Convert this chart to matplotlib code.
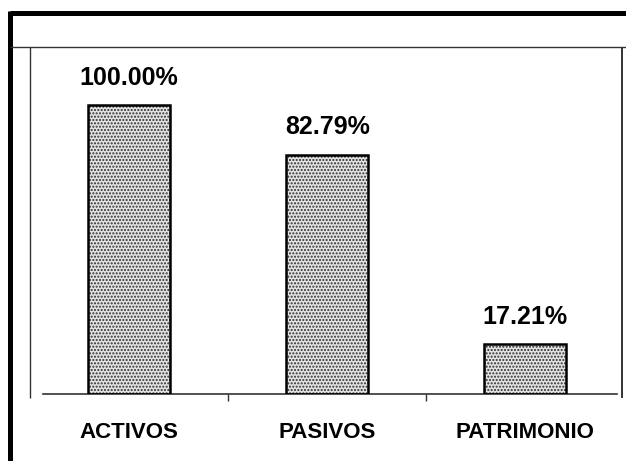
import matplotlib
matplotlib.use("Agg")
import matplotlib.pyplot as plt
from matplotlib.lines import Line2D

# data
categories = ["ACTIVOS", "PASIVOS", "PATRIMONIO"]
values = [100.00, 82.79, 17.21]
value_labels = ["100.00%", "82.79%", "17.21%"]

W, H = 626, 461
plt.rcParams["font.family"] = ["Liberation Sans", "DejaVu Sans"]
plt.rcParams["font.weight"] = "bold"

fig = plt.figure(figsize=(W / 100, H / 100), dpi=100)


def px(x, y):
    # pixel coords (from top-left) -> figure fraction
    return x / W, 1 - y / H


def fig_line(x0, y0, x1, y1, lw, color="black"):
    (a, b), (c, d) = px(x0, y0), px(x1, y1)
    fig.add_artist(Line2D([a, c], [b, d], lw=lw, color=color,
                          transform=fig.transFigure, solid_capstyle="butt"))


# frame around the chart area
fig_line(9.5, 13.5, W, 13.5, 3.6)
fig_line(9.5, 11, 9.5, H, 3.6)
fig_line(9.5, 47, W, 47, 1.0, "#333333")
fig_line(30, 47, 30, 398, 1.0, "#333333")
fig_line(622, 47, 622, 398, 1.4, "#333333")

# plot area
left, right, base, top = 43, 617, 394, 47
ax = fig.add_axes([left / W, 1 - base / H, (right - left) / W, (base - top) / H])
ax.set_xlim(-0.434, 2.462)
ax.set_ylim(0, 120)

x = range(len(categories))
ax.bar(x, values, width=0.414, color="#e2e2e2", edgecolor="#2e2e2e",
       linewidth=0, hatch=".....", zorder=2)
ax.bar(x, values, width=0.414, fill=False, edgecolor="black",
       linewidth=1.8, zorder=3)

for xi, v, lab in zip(x, values, value_labels):
    ax.annotate(lab, (xi, v), xytext=(0, 11), textcoords="offset points",
                ha="center", va="bottom", fontsize=18, fontweight="bold")

for s in ["top", "left", "right"]:
    ax.spines[s].set_visible(False)
ax.spines["bottom"].set_color("#333333")
ax.spines["bottom"].set_linewidth(1.2)
ax.set_yticks([])
ax.set_xticks(list(x), categories)
ax.set_xticks([0.5, 1.5], minor=True)
ax.tick_params(axis="x", which="major", length=0, pad=20, labelsize=16)
ax.tick_params(axis="x", which="minor", length=5, width=1, color="#333333",
               direction="out")
for t in ax.get_xticklabels():
    t.set_fontweight("bold")

fig.savefig("out.png", dpi=100)
